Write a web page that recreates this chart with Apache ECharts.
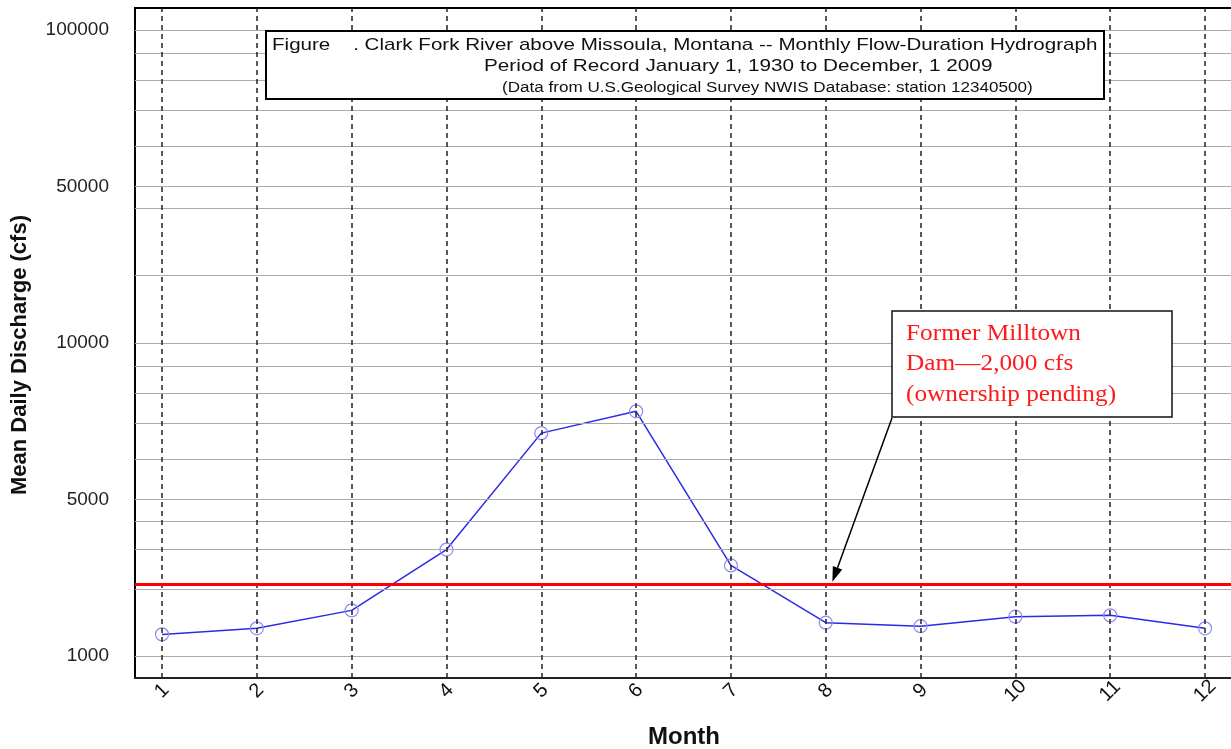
<!DOCTYPE html>
<html><head><meta charset="utf-8">
<script src="https://cdn.jsdelivr.net/npm/echarts@6/dist/echarts.min.js"></script>
<style>html,body{margin:0;padding:0;background:#fff}#c{width:1231px;height:749px}</style>
</head><body><div id="c"></div>
<script>
// ---- data ----
const months = [1,2,3,4,5,6,7,8,9,10,11,12];
const discharge = [1250,1330,1600,2990,6710,7390,2540,1410,1360,1500,1520,1330];
const milltownFlow = 2080;
const yTickValues = [1000,5000,10000,50000,100000];
const yGridValues = [1000,2000,3000,4000,5000,6000,7000,8000,9000,10000,20000,40000,50000,60000,70000,80000,90000,100000];
const titleLines = [
  'Figure    . Clark Fork River above Missoula, Montana -- Monthly Flow-Duration Hydrograph',
  'Period of Record January 1, 1930 to December, 1 2009',
  '(Data from U.S.Geological Survey NWIS Database: station 12340500)'
];
const annotationLines = ['Former Milltown', 'Dam\u20142,000 cfs', '(ownership pending)'];

// piecewise-logarithmic scale: each labelled interval gets equal height
function toPos(v){
  const b = yTickValues;
  let i = 0;
  while (i < b.length - 2 && v > b[i+1]) i++;
  return i + Math.log(v / b[i]) / Math.log(b[i+1] / b[i]);
}
function fromPos(p){
  const b = yTickValues;
  let i = Math.max(0, Math.min(b.length - 2, Math.floor(p)));
  return b[i] * Math.pow(b[i+1] / b[i], p - i);
}

const chart = echarts.init(document.getElementById('c'), null, {renderer:'canvas'});
const FONT = 'Liberation Sans, Arial, sans-serif';
const SERIF = 'Liberation Serif, Times New Roman, serif';

chart.setOption({
  backgroundColor:'#fff',
  animation:false,
  tooltip:{trigger:'axis', formatter: ps => {
    const p = ps.find(x => x.seriesName === 'Mean daily discharge');
    return p ? 'Month ' + p.value[0] + ': ' + Math.round(fromPos(p.value[1])) + ' cfs' : '';
  }},
  grid:{left:135, top:8, right:-2, bottom:71, outerBoundsMode:'none', containLabel:false,
    show:true, borderColor:'#000', borderWidth:2, backgroundColor:'#fff'},
  xAxis:{
    type:'value', min:0.715, max:12.295,
    axisLine:{show:true, onZero:false, lineStyle:{color:'#222', width:2}},
    axisTick:{show:false}, splitLine:{show:false},
    axisLabel:{customValues: months, rotate:45, align:'center', verticalAlign:'middle', margin:13,
      fontFamily:FONT, fontSize:20, color:'#111'},
    name:'Month', nameLocation:'middle', nameGap:47,
    nameTextStyle:{fontFamily:FONT, fontSize:24, fontWeight:'bold', color:'#111'}
  },
  yAxis:{
    type:'value', min:-0.14, max:4.14,
    axisLine:{show:true, onZero:false, lineStyle:{color:'#000', width:2}},
    axisTick:{show:false}, splitLine:{show:false},
    axisLabel:{customValues: yTickValues.map(toPos), formatter: v => String(Math.round(fromPos(v))),
      margin:26, fontFamily:FONT, fontSize:19, color:'#222'},
    name:'Mean Daily Discharge (cfs)', nameLocation:'middle', nameGap:104,
    nameTextStyle:{fontFamily:FONT, fontSize:22, fontWeight:'bold', color:'#111', padding:[0,24,0,0]}
  },
  series:[
    {name:'hgrid', type:'line', data:[], silent:true, z:1,
      markLine:{silent:true, symbol:['none','none'], label:{show:false},
        lineStyle:{color:'#aaaaaa', width:1.2, type:'solid'},
        data: yGridValues.map(v => ({yAxis: toPos(v)}))}},
    {name:'vgrid', type:'line', data:[], silent:true, z:2,
      markLine:{silent:true, symbol:['none','none'], label:{show:false},
        lineStyle:{color:'#222', width:1.5, type:[5,4]},
        data: months.map(m => ({xAxis: m}))}},
    {name:'Former Milltown Dam', type:'line', data:[], silent:true, z:3,
      markLine:{silent:true, symbol:['none','none'], label:{show:false},
        lineStyle:{color:'#ff0000', width:3, type:'solid'},
        data:[{yAxis: toPos(milltownFlow)}]}},
    {name:'Mean daily discharge', type:'line', z:4,
      data: months.map((m,i) => [m, toPos(discharge[i])]),
      symbol:'circle', symbolSize:13, showSymbol:true,
      lineStyle:{color:'#2a2ae6', width:1.5},
      itemStyle:{color:'rgba(0,0,0,0)', borderColor:'#8c8cee', borderWidth:1.2}}
  ]
});

// annotations
const tip = chart.convertToPixel({gridIndex:0}, [8.07, toPos(milltownFlow)]);
const tipX = tip[0], tipY = tip[1] - 3;
const tailX = 892, tailY = 418;
const ang = Math.atan2(tipY - tailY, tipX - tailX);
const hl = 15, hw = 5;
const bx = tipX - hl*Math.cos(ang), by = tipY - hl*Math.sin(ang);
const head = [[tipX, tipY],
  [bx + hw*Math.sin(ang), by - hw*Math.cos(ang)],
  [bx - hw*Math.sin(ang), by + hw*Math.cos(ang)]];

function txt(x, y, s, font, fill, sx){
  return {type:'text', x:x, y:y, scaleX:sx, z:101,
    style:{text:s, font:font, fill:fill, textVerticalAlign:'middle'}};
}
chart.setOption({graphic:[
  {type:'rect', shape:{x:266, y:31, width:838, height:68}, style:{fill:'#fff', stroke:'#000', lineWidth:2}, z:100},
  txt(272, 45, titleLines[0], '17px '+FONT, '#111', 1.21),
  txt(484, 66, titleLines[1], '17px '+FONT, '#111', 1.22),
  txt(502, 88, titleLines[2], '14px '+FONT, '#111', 1.22),
  {type:'rect', shape:{x:892, y:311, width:280, height:106}, style:{fill:'#fff', stroke:'#111', lineWidth:1.5}, z:100},
  txt(906, 334, annotationLines[0], '23px '+SERIF, '#ff1a1a', 1.1),
  txt(906, 364, annotationLines[1], '23px '+SERIF, '#ff1a1a', 1.1),
  txt(906, 395, annotationLines[2], '23px '+SERIF, '#ff1a1a', 1.1),
  {type:'line', shape:{x1:tailX, y1:tailY, x2:bx, y2:by}, style:{stroke:'#000', lineWidth:1.5}, z:100},
  {type:'polygon', shape:{points:head}, style:{fill:'#000'}, z:100}
]});
</script></body></html>
